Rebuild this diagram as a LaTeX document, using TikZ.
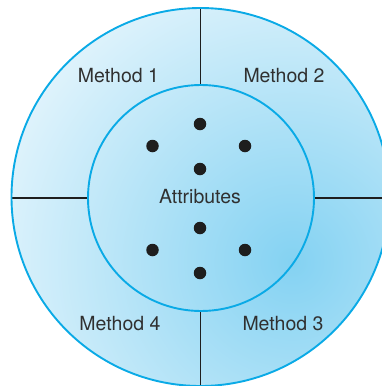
\documentclass[tikz,border=0pt]{standalone}
\usepackage{fontspec}
\setmainfont{TeX Gyre Heros}
\definecolor{ringblue}{HTML}{0AAAE6}
\definecolor{deepfill}{HTML}{84D2F2}
\definecolor{palefill}{HTML}{EAF7FD}
\definecolor{txtgray}{HTML}{303030}
\definecolor{linegray}{HTML}{1E1E1E}
\begin{document}
\begin{tikzpicture}[x=1pt,y=-1pt,
  ring/.style={draw=ringblue,line width=1.9pt},
  divider/.style={draw=linegray,line width=1.9pt},
  dot/.style={circle,fill=linegray,inner sep=0pt,minimum size=12.5pt},
  lbl/.style={font=\fontsize{19.5}{22}\selectfont,text=txtgray,inner sep=0pt,anchor=base}]
\useasboundingbox (0,0) rectangle (382,386);
\coordinate (oc) at (200.5,197);
\coordinate (ic) at (201,198);
% shading
\begin{scope}
  \clip (oc) circle[radius=189];
  \fill[inner color=deepfill,outer color=palefill] (292,262) circle[radius=340];
\end{scope}
% dividers
\coordinate (t1) at (200.5,8);
\coordinate (t2) at (200.5,85);
\coordinate (b1) at (200.5,311);
\coordinate (b2) at (200.5,390);
\coordinate (l1) at (11,198);
\coordinate (l2) at (88,198);
\coordinate (r1) at (314,198);
\coordinate (r2) at (390,198);
\draw[divider] (t1) -- (t2);
\draw[divider] (b1) -- (b2);
\draw[divider] (l1) -- (l2);
\draw[divider] (r1) -- (r2);
% circles
\draw[ring] (oc) circle[radius=189];
\draw[ring] (ic) circle[radius=113];
% dots
\node[dot] (d1) at (200,124) {};
\node[dot] (d2) at (152.5,146) {};
\node[dot] (d3) at (245,146) {};
\node[dot] (d4) at (200,169) {};
\node[dot] (d5) at (200,228) {};
\node[dot] (d6) at (152.5,250) {};
\node[dot] (d7) at (245,250) {};
\node[dot] (d8) at (200,273) {};
% labels
\node[lbl] (attr) at (200,203) {Attributes};
\node[lbl] (m1) at (118.5,82) {Method 1};
\node[lbl] (m2) at (284,82) {Method 2};
\node[lbl] (m4) at (120,330) {Method 4};
\node[lbl] (m3) at (283,330) {Method 3};
\end{tikzpicture}
\end{document}
